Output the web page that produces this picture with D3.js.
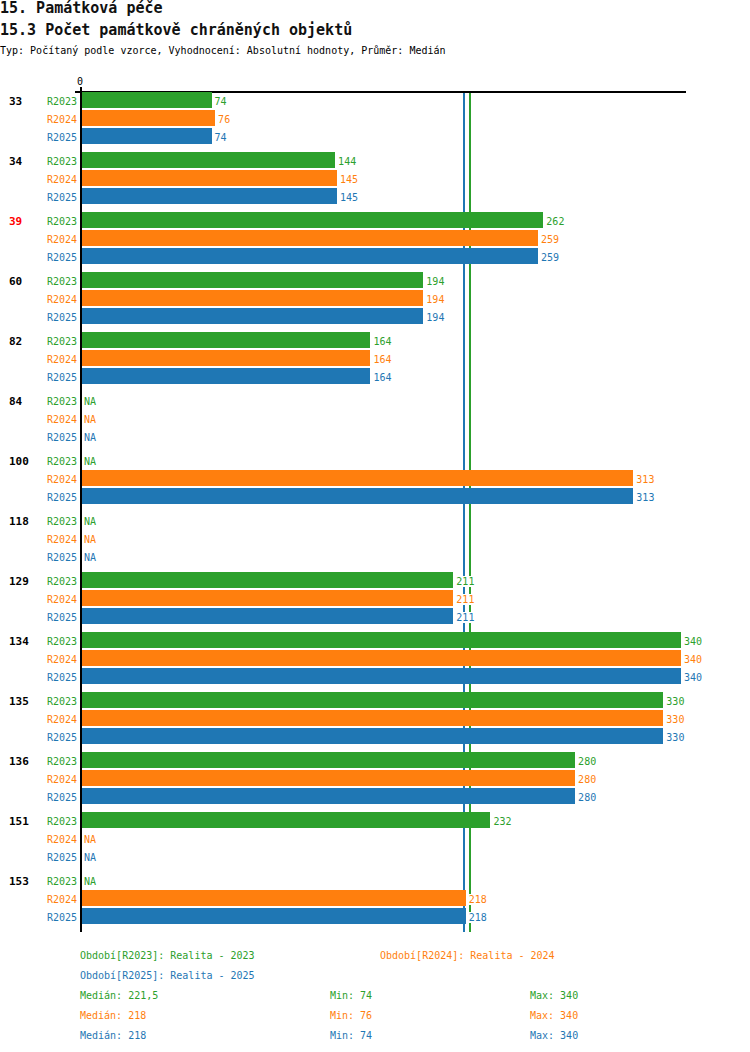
<!DOCTYPE html>
<html lang="cs">
<head>
    <meta charset="UTF-8">
    <title>15.3 Počet památkově chráněných objektů</title>
    <style>
        body { margin: 0; background: #fff; }
        svg { display: block; font-family: "DejaVu Sans Mono", "Liberation Mono", monospace; }
        .title { font-size: 15px; font-weight: bold; fill: #111; }
        .small { font-size: 10px; }
        .group { font-size: 11px; font-weight: bold; }
        line, rect { shape-rendering: crispEdges; }
    </style>
</head>
<body>
<svg></svg>
<script src="https://cdn.jsdelivr.net/npm/d3@7"></script>
<script>
    // data
    var groups = ['33','34','39','60','82','84','100','118','129','134','135','136','151','153']
    var series = ['R2023','R2024','R2025']
    var seriesNames = ['Realita - 2023','Realita - 2024','Realita - 2025']
    var colors = ['#2ca02c','#ff7f0e','#1f77b4']
    var highlight = ['39']
    var r2023 = [74,144,262,194,164,null,null,null,211,340,330,280,232,null]
    var r2024 = [76,145,259,194,164,null,313,null,211,340,330,280,null,218]
    var r2025 = [74,145,259,194,164,null,313,null,211,340,330,280,null,218]
    var values = [r2023, r2024, r2025]

    var W = 750, H = 1052
    var svg = d3.select('svg').attr('width', W).attr('height', H)

    // titulky
    svg.append('text').attr('class','title').attr('x',0).attr('y',13).text('15. Památková péče')
    svg.append('text').attr('class','title').attr('x',0).attr('y',35).text('15.3 Počet památkově chráněných objektů')
    svg.append('text').attr('class','small').attr('x',0).attr('y',54)
        .text('Typ: Počítaný podle vzorce, Vyhodnocení: Absolutní hodnoty, Průměr: Medián')

    //scales
    var x = d3.scaleLinear().domain([0, 340]).range([80, 680])
    var yGroup = d3.scaleBand().domain(groups).range([92, 932])
    var ySeries = d3.scaleBand().domain(series).range([0, 52]).paddingInner(1/9)

    // median lines (behind bars)
    var medians = values.map(function(v){ return d3.median(v.filter(function(d){ return d != null })) })
    var mins = values.map(function(v){ return d3.min(v) })
    var maxs = values.map(function(v){ return d3.max(v) })

    svg.append('g').selectAll('line')
        .data(medians)
        .enter().append('line')
        .attr('x1', function(d){ return Math.floor(x(d)) })
        .attr('x2', function(d){ return Math.floor(x(d)) })
        .attr('y1', 92).attr('y2', 932)
        .attr('stroke', function(d,i){ return colors[i] })
        .attr('stroke-width', 1.5)

    // axis
    svg.append('line').attr('x1', 75).attr('x2', 686).attr('y1', 92).attr('y2', 92)
        .attr('stroke', '#000').attr('stroke-width', 1.5)
    svg.append('line').attr('x1', 81).attr('x2', 81).attr('y1', 87).attr('y2', 932)
        .attr('stroke', '#000').attr('stroke-width', 2)
    svg.append('text').attr('class','small').attr('x', x(0)).attr('y', 85)
        .attr('text-anchor','middle').text('0')

    // groups
    var g = svg.append('g').selectAll('g.grp')
        .data(groups)
        .enter().append('g')
        .attr('class','grp')
        .attr('transform', function(d){ return 'translate(0,' + yGroup(d) + ')' })

    g.append('text')
        .attr('class','group')
        .attr('x', 9)
        .attr('y', ySeries('R2023') + ySeries.bandwidth()/2 + 1)
        .attr('dy', '0.35em')
        .attr('fill', function(d){ return highlight.indexOf(d) >= 0 ? '#ff0000' : '#000' })
        .text(function(d){ return d })

    g.each(function(grp, gi){
        var row = d3.select(this)
        series.forEach(function(s, si){
            var v = values[si][gi]
            var yy = ySeries(s)
            var cy = yy + ySeries.bandwidth()/2 + 1
            row.append('text')
                .attr('class','small')
                .attr('x', 77).attr('y', cy).attr('dy','0.35em')
                .attr('text-anchor','end')
                .attr('fill', colors[si])
                .text(s)
            if (v != null) {
                row.append('rect')
                    .attr('x', 82).attr('y', yy)
                    .attr('width', x(v) - 82 + 1)
                    .attr('height', ySeries.bandwidth())
                    .attr('fill', colors[si])
            }
            var lx = v != null ? x(v) + 4 : 84
            var lbl = row.append('text')
                .attr('class','small')
                .attr('x', lx).attr('y', cy).attr('dy','0.35em')
                .attr('fill', colors[si])
                .text(v != null ? v : 'NA')
            var bb = lbl.node().getBBox()
            row.insert('rect', function(){ return lbl.node() })
                .attr('x', bb.x).attr('y', bb.y)
                .attr('width', bb.width).attr('height', bb.height)
                .attr('fill', '#fff')
        })
    })

    // legend
    var fmt = function(v){ return String(v).replace('.', ',') }
    var legPos = [[80, 954], [380, 954], [80, 974]]
    series.forEach(function(s, i){
        svg.append('text').attr('class','small')
            .attr('x', legPos[i][0]).attr('y', legPos[i][1] + 1).attr('dy','0.35em')
            .attr('fill', colors[i])
            .text('Období[' + s + ']: ' + seriesNames[i])
        var yy = 995 + i*20
        svg.append('text').attr('class','small').attr('x', 80).attr('y', yy).attr('dy','0.35em')
            .attr('fill', colors[i]).text('Medián: ' + fmt(medians[i]))
        svg.append('text').attr('class','small').attr('x', 330).attr('y', yy).attr('dy','0.35em')
            .attr('fill', colors[i]).text('Min: ' + mins[i])
        svg.append('text').attr('class','small').attr('x', 530).attr('y', yy).attr('dy','0.35em')
            .attr('fill', colors[i]).text('Max: ' + maxs[i])
    })
</script>
</body>
</html>
